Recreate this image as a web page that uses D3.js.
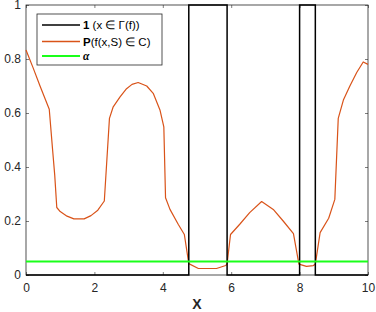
<!DOCTYPE html>
<html>
<head>
<meta charset="utf-8">
<script src="https://cdn.jsdelivr.net/npm/d3@7"></script>
<style>
  body { margin: 0; background: #fff; }
  svg { display: block; font-family: "Liberation Sans", Arial, sans-serif; }
</style>
</head>
<body>
<div id="chart"></div>
<script>
// indicateur 1(x ∈ Γ(f)) : fonction en escalier
const indicX = [0, 4.76, 5.88, 8.0, 8.46, 10];
const indicY = [0, 1, 0, 1, 0, 0];

// probabilité P(f(x,S) ∈ C)
const probX = [0, 0.2, 0.41, 0.68, 0.78, 0.84, 0.9, 1.0, 1.2, 1.4, 1.7, 1.9, 2.1, 2.29,
  2.44, 2.55, 2.75, 2.94, 3.1, 3.28, 3.53, 3.72, 3.92, 4.03, 4.08, 4.21, 4.45, 4.63,
  4.76, 5.04, 5.57, 5.84, 5.88, 5.98, 6.25, 6.54, 6.89, 7.23, 7.52, 7.82, 7.98,
  8.2, 8.4, 8.46, 8.6, 8.85, 9.03, 9.13, 9.28, 9.47, 9.67, 9.86, 10];
const probY = [0.833, 0.77, 0.70, 0.614, 0.46, 0.37, 0.25, 0.235, 0.218, 0.208, 0.208, 0.22, 0.24, 0.274,
  0.58, 0.623, 0.66, 0.69, 0.706, 0.713, 0.70, 0.673, 0.61, 0.549, 0.286, 0.243, 0.188, 0.15,
  0.042, 0.024, 0.024, 0.035, 0.042, 0.15, 0.188, 0.231, 0.272, 0.243, 0.2, 0.153, 0.04,
  0.032, 0.035, 0.04, 0.157, 0.21, 0.28, 0.58, 0.648, 0.70, 0.75, 0.789, 0.78];

// seuil alpha
const alpha = 0.05;

const xTicks = [0, 2, 4, 6, 8, 10];
const yTicks = [0, 0.2, 0.4, 0.6, 0.8, 1];

const width = 376;
const height = 312;
const margin = { top: 5, right: 8, bottom: 37, left: 26 };
const axisColor = "#262626";

const svg = d3.select("#chart")
  .append("svg")
  .attr("width", width)
  .attr("height", height);

const x = d3.scaleLinear().domain([0, 10]).range([margin.left, width - margin.right]);
const y = d3.scaleLinear().domain([0, 1]).range([height - margin.bottom, margin.top]);

// axes (ticks vers l'intérieur, comme MATLAB)
const tickLen = 3;
svg.append("g")
  .attr("transform", `translate(0,${y(0)})`)
  .call(d3.axisBottom(x).tickValues(xTicks).tickSize(-tickLen).tickPadding(8).tickFormat(d3.format("d")))
  .call(g => g.select(".domain").remove());
svg.append("g")
  .attr("transform", `translate(0,${y(1)})`)
  .call(d3.axisTop(x).tickValues(xTicks).tickSize(-tickLen).tickFormat(""))
  .call(g => g.select(".domain").remove());
svg.append("g")
  .attr("transform", `translate(${x(0)},0)`)
  .call(d3.axisLeft(y).tickValues(yTicks).tickSize(-tickLen).tickPadding(5).tickFormat(d => d === 0 || d === 1 ? d : d3.format(".1f")(d)))
  .call(g => g.select(".domain").remove());
svg.append("g")
  .attr("transform", `translate(${x(10)},0)`)
  .call(d3.axisRight(y).tickValues(yTicks).tickSize(-tickLen).tickFormat(""))
  .call(g => g.select(".domain").remove());

svg.selectAll(".tick line").attr("stroke", axisColor).attr("stroke-width", 0.6);
svg.selectAll(".tick text").attr("fill", axisColor).style("font-size", "12px").style("font-family", "Liberation Sans, Arial, sans-serif");

// cadre
svg.append("rect")
  .attr("x", x(0))
  .attr("y", y(1))
  .attr("width", x(10) - x(0))
  .attr("height", y(0) - y(1))
  .attr("fill", "none")
  .attr("stroke", axisColor)
  .attr("stroke-width", 0.8);

// courbes
const plot = svg.append("g");

plot.append("path")
  .datum(probX.map((d, i) => [d, probY[i]]))
  .attr("fill", "none")
  .attr("stroke", "#D95319")
  .attr("stroke-width", 1.2)
  .attr("stroke-linejoin", "round")
  .attr("d", d3.line().x(d => x(d[0])).y(d => y(d[1])));

plot.append("path")
  .datum(indicX.map((d, i) => [d, indicY[i]]))
  .attr("fill", "none")
  .attr("stroke", "#000")
  .attr("stroke-width", 1.5)
  .attr("d", d3.line().curve(d3.curveStepAfter).x(d => x(d[0])).y(d => y(d[1])));

plot.append("line")
  .attr("x1", x(0)).attr("x2", x(10))
  .attr("y1", y(alpha)).attr("y2", y(alpha))
  .attr("stroke", "#1aff1a")
  .attr("stroke-width", 2.2);

// titre de l'axe X
svg.append("text")
  .attr("x", (x(0) + x(10)) / 2)
  .attr("y", 309)
  .attr("text-anchor", "middle")
  .attr("fill", axisColor)
  .style("font-size", "14px")
  .style("font-weight", "bold")
  .text("X");

// légende
const legend = svg.append("g").attr("transform", "translate(37,14)");
legend.append("rect")
  .attr("width", 125)
  .attr("height", 51)
  .attr("fill", "#fff")
  .attr("stroke", axisColor)
  .attr("stroke-width", 0.8);

const legendItems = [
  { color: "#000", width: 1.3, bold: "1", rest: " (x  \u2208 \u0393(f))" },
  { color: "#D95319", width: 1.5, bold: "P", rest: "(f(x,S)  \u2208 C)" },
  { color: "#1aff1a", width: 2.2, bold: "\u03b1", rest: "" }
];
const rowY = [11, 27.5, 42];

legendItems.forEach((item, i) => {
  legend.append("line")
    .attr("x1", 5).attr("x2", 43)
    .attr("y1", rowY[i]).attr("y2", rowY[i])
    .attr("stroke", item.color)
    .attr("stroke-width", item.width);
  const t = legend.append("text")
    .attr("x", 46)
    .attr("y", rowY[i] + 4)
    .attr("fill", "#000")
    .style("font-size", "11.5px");
  t.append("tspan")
    .style("font-weight", "bold")
    .style("font-style", i === 2 ? "italic" : "normal")
    .style("font-family", i === 2 ? "Liberation Serif, serif" : null)
    .text(item.bold);
  t.append("tspan").text(item.rest);
});
</script>
</body>
</html>
